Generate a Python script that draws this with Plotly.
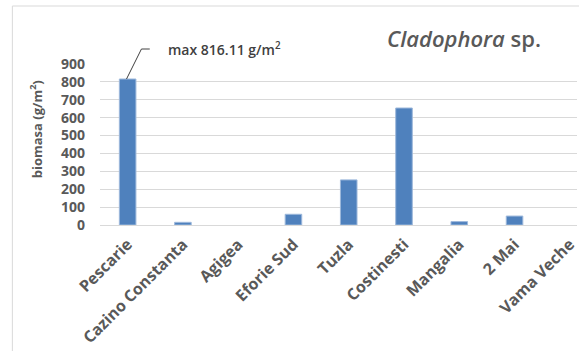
import plotly.graph_objects as go

# Cladophora sp. biomass at sampling stations along the coast
stations = ["Pescarie", "Cazino Constanta", "Agigea", "Eforie Sud", "Tuzla",
            "Costinesti", "Mangalia", "2 Mai", "Vama Veche"]
biomass = [816.11, 15, 0, 60, 252, 654, 19, 50, 0]
y_ticks = [0, 100, 200, 300, 400, 500, 600, 700, 800, 900]
Y_MAX = 900

font_family = "Open Sans"
gray = "#595959"

# layout geometry (pixels)
W, H = 579, 351
ML, MT, MB = 100, 64, 126
plot_w = W - ML
plot_h = H - MT - MB


def px_x(p):
    return (p - ML) / plot_w


def px_y(p):
    return (H - MB - p) / plot_h


fig = go.Figure(go.Bar(
    x=list(range(len(stations))),
    y=biomass,
    width=0.3,
    marker=dict(color="#4F81BD",
                line=dict(color="#9DB8DB", width=[1 if v > 0 else 0 for v in biomass])),
    hoverinfo="x+y",
))

fig.update_layout(
    width=W, height=H,
    margin=dict(l=ML, r=0, t=MT, b=MB),
    paper_bgcolor="white", plot_bgcolor="white",
    showlegend=False,
    font=dict(family=font_family, color=gray),
    xaxis=dict(
        tickmode="array",
        tickvals=list(range(len(stations))),
        ticktext=stations,
        range=[-0.5, 8.13],
        tickangle=-45,
        ticklabeloverflow="allow",
        ticklabelstandoff=6,
        showgrid=False,
        showline=False,
        zeroline=False,
        tickfont=dict(family=font_family, size=16, color=gray, weight="bold"),
    ),
    yaxis=dict(
        range=[0, Y_MAX],
        tickvals=y_ticks,
        showgrid=True, gridcolor="#D9D9D9", gridwidth=1,
        zeroline=True, zerolinecolor="#D9D9D9", zerolinewidth=1,
        showline=False,
        ticklabelstandoff=14,
        tickfont=dict(family=font_family, size=14, color=gray, weight="bold"),
    ),
)

# chart frame
fig.add_shape(type="rect", xref="paper", yref="paper",
              x0=px_x(12), x1=px_x(W + 20), y0=px_y(H + 20), y1=px_y(6),
              line=dict(color="#D9D9D9", width=1), layer="below")

# y-axis title
fig.add_annotation(xref="paper", yref="paper", x=px_x(35), y=px_y(129),
                   xanchor="center", yanchor="middle", showarrow=False,
                   textangle=-90, text="biomasa (g/m<sup>2</sup>)",
                   font=dict(family=font_family, size=13, color=gray, weight="bold"))

# species title
fig.add_annotation(xref="paper", yref="paper", x=px_x(386), y=px_y(38),
                   xanchor="left", yanchor="middle", showarrow=False,
                   text="<i>Cladophora</i> sp.",
                   font=dict(family=font_family, size=22, color=gray, weight=600))

# maximum value label with an elbow leader line
max_val = max(biomass)
max_idx = biomass.index(max_val)
elbow_y = px_y(49)
fig.add_shape(type="line", xref="x", yref="paper",
              x0=max_idx - 0.02, y0=max_val / Y_MAX,
              x1=max_idx + 0.25, y1=elbow_y,
              line=dict(color="#404040", width=1))
fig.add_shape(type="line", xref="x", yref="paper",
              x0=max_idx + 0.25, y0=elbow_y,
              x1=max_idx + 0.40, y1=elbow_y,
              line=dict(color="#404040", width=1))
fig.add_annotation(x=max_idx + 0.70, y=elbow_y, xref="x", yref="paper",
                   xanchor="left", yanchor="middle", showarrow=False,
                   text=f"max {max_val:.2f} g/m<sup>2</sup>",
                   font=dict(family=font_family, size=14, color="#404040", weight=600))

fig.write_html("out.html")
